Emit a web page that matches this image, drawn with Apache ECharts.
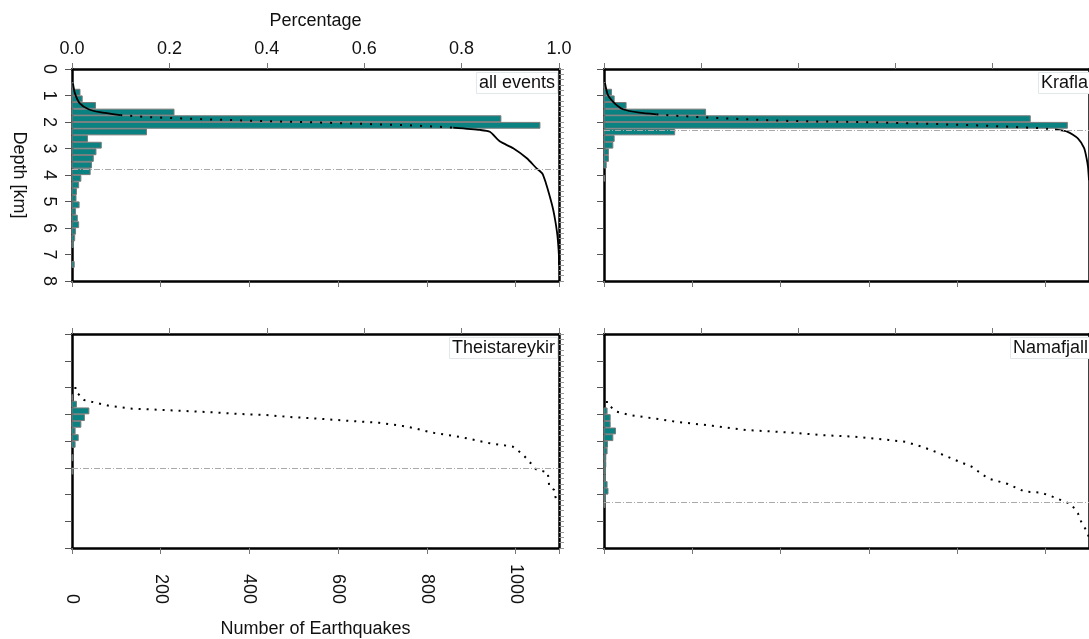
<!DOCTYPE html>
<html><head><meta charset="utf-8">
<script src="https://cdn.jsdelivr.net/npm/echarts@6/dist/echarts.min.js"></script>
<style>html,body{margin:0;padding:0;background:#fff}#c{width:1089px;height:639px}</style>
</head><body><div id="c"></div>
<script>
// ---------------- DATA ----------------
const panelNames = ['all events', 'Krafla', 'Theistareykir', 'Namafjall'];
const depthTicks = [0, 1, 2, 3, 4, 5, 6, 7, 8];
const pctTicks = ['0.0', '0.2', '0.4', '0.6', '0.8', '1.0'];
const countTicks = ['0', '200', '400', '600', '800', '1000'];
// depth-bin centres (km), 0.25 km bins
const binDepths = [0.125, 0.375, 0.625, 0.875, 1.125, 1.375, 1.625, 1.875,
                   2.125, 2.375, 2.625, 2.875, 3.125, 3.375, 3.625, 3.875,
                   4.125, 4.375, 4.625, 4.875, 5.125, 5.375, 5.625, 5.875,
                   6.125, 6.375, 6.625, 6.875, 7.125, 7.375, 7.625, 7.875];
const countsAll    = [0, 0, 3, 18, 23, 53, 230, 967, 1055, 168, 35, 66, 54, 48, 44, 41,
                      20, 15, 10, 9, 16, 8, 12, 15, 8, 6, 3, 0, 0, 5, 0, 0];
const countsKrafla = [0, 0, 2, 17, 23, 50, 230, 965, 1049, 160, 23, 20, 10, 10, 5, 0,
                      1, 0, 0, 0, 0, 0, 0, 0, 0, 0, 0, 0, 0, 0, 0, 0];
const countsTheist = [0, 0, 0, 0, 0, 0, 0, 0, 0, 1, 10, 38, 28, 20, 7, 14,
                      7, 0, 2, 0, 2, 0, 0, 0, 0, 0, 0, 0, 0, 0, 0, 0];
const countsNamaf  = [0, 0, 0, 0, 0, 0, 0, 0, 0, 0, 0, 7, 14, 14, 26, 20,
                      8, 7, 4, 4, 3, 3, 7, 9, 3, 2, 0, 0, 0, 0, 0, 0];
// cumulative curves: [fraction, depth km]
const cumAllSolidA = [[0.002,0.54],[0.006,0.92],[0.016,1.30],[0.034,1.52],[0.057,1.63],[0.099,1.74]];
const cumAllDots   = [[0.099,1.74],[0.16,1.82],[0.263,1.89],[0.366,1.95],[0.448,1.99],[0.564,2.05],[0.70,2.13],[0.783,2.21]];
const cumAllSolidB = [[0.783,2.21],[0.838,2.30],[0.858,2.37],[0.879,2.74],[0.906,2.99],[0.934,3.37],[0.954,3.75],
                      [0.966,3.95],[0.973,4.3],[0.981,4.8],[0.988,5.3],[0.993,5.8],[0.997,6.33],[1.0,7.2],[1.0,7.4]];
const cumKrSolidA  = [[0.002,0.53],[0.008,0.98],[0.022,1.30],[0.039,1.52],[0.073,1.65],[0.108,1.71]];
const cumKrDots    = [[0.108,1.71],[0.142,1.76],[0.245,1.86],[0.38,1.96],[0.52,2.00],[0.655,2.06],[0.79,2.14],[0.895,2.23],[0.93,2.28]];
const cumKrSolidB  = [[0.93,2.28],[0.956,2.37],[0.977,2.62],[0.99,2.99],[0.995,3.37],[0.998,3.7],[1.0,4.2]];
const cumThDots    = [[0.007,1.98],[0.007,2.14],[0.015,2.28],[0.025,2.47],[0.049,2.57],[0.077,2.69],[0.124,2.79],
                      [0.15,2.81],[0.186,2.84],[0.234,2.88],[0.289,2.93],[0.343,2.99],[0.398,3.03],[0.453,3.11],
                      [0.494,3.15],[0.563,3.24],[0.631,3.32],[0.679,3.44],[0.706,3.53],[0.74,3.69],[0.795,3.84],
                      [0.857,4.08],[0.905,4.21],[0.925,4.49],[0.942,4.83],[0.953,5.06],[0.977,5.18],[0.98,5.71],
                      [0.99,5.83],[0.994,6.21]];
const cumNaDots    = [[0.006,2.50],[0.006,2.62],[0.015,2.74],[0.025,2.90],[0.053,3.03],[0.101,3.15],[0.149,3.28],
                      [0.224,3.43],[0.292,3.59],[0.381,3.68],[0.45,3.78],[0.518,3.84],[0.587,3.96],[0.621,4.03],
                      [0.655,4.21],[0.689,4.44],[0.724,4.71],[0.758,4.96],[0.792,5.40],[0.833,5.61],[0.867,5.89],
                      [0.901,5.93],[0.929,6.11],[0.963,6.36],[0.977,6.70],[0.984,7.02],[0.994,7.33],[1.0,7.6]];
// depth at 95 % of events (km)
const depth95 = [3.77, 2.33, 5.0, 6.29];

// ---------------- CHART ----------------
const FONT = 'Liberation Sans';
const countsList = [countsAll, countsKrafla, countsTheist, countsNamaf];
const solidList = [[cumAllSolidA, cumAllSolidB], [cumKrSolidA, cumKrSolidB], [], []];
const dotList = [[cumAllDots], [cumKrDots], [cumThDots], [cumNaDots]];
const COUNT_MAX = 1098;
const grids = [
  {left: 72, top: 69, width: 487, height: 212},
  {left: 604, top: 69, width: 487, height: 212},
  {left: 72, top: 334, width: 487, height: 214},
  {left: 604, top: 334, width: 487, height: 214}
];
const frameLine = {show: true, onZero: false, lineStyle: {color: '#000', width: 2.5}};
const txt = {fontFamily: FONT, fontSize: 18, color: '#111'};
const xAxis = [], yAxis = [], series = [];
grids.forEach((g, i) => {
  xAxis.push({
    type: 'value', gridIndex: i, position: 'bottom', min: 0, max: COUNT_MAX, interval: 200,
    axisLine: frameLine, splitLine: {show: false},
    axisTick: {show: true, length: 6, lineStyle: {color: '#777'}},
    axisLabel: {show: i === 2, rotate: -90, align: 'right', verticalAlign: 'middle', margin: 56,
      ...txt, formatter: v => countTicks.includes(String(v)) ? String(v) : ''},
    name: i === 2 ? 'Number of Earthquakes' : '', nameLocation: 'middle', nameGap: 72,
    nameTextStyle: txt
  });
  xAxis.push({
    type: 'value', gridIndex: i, position: 'top', min: 0, max: 1, interval: 0.2,
    axisLine: frameLine, splitLine: {show: false},
    axisTick: {show: true, length: 6, lineStyle: {color: '#777'}},
    axisLabel: {show: i === 0, margin: 11, ...txt, formatter: v => pctTicks[Math.round(v * 5)]},
    name: i === 0 ? 'Percentage' : '', nameLocation: 'middle', nameGap: 39,
    nameTextStyle: txt
  });
  yAxis.push({
    type: 'value', gridIndex: i, position: 'left', inverse: true, min: 0, max: 8, interval: 1,
    axisLine: frameLine, splitLine: {show: false},
    axisTick: {show: true, length: 7, lineStyle: {color: '#555'}},
    axisLabel: {show: i === 0, rotate: -90, margin: 14, ...txt,
      formatter: v => depthTicks.includes(v) ? String(v) : ''},
    name: i === 0 ? 'Depth [km]' : '', nameLocation: 'middle', nameRotate: -90, nameGap: 44,
    nameTextStyle: txt
  });
  yAxis.push({
    type: 'value', gridIndex: i, position: 'right', inverse: true, min: 0, max: 8, interval: 0.2,
    axisLine: frameLine, splitLine: {show: false},
    axisTick: {show: true, length: 5, lineStyle: {color: '#999'}},
    axisLabel: {show: false}
  });

  // histogram bars
  const barData = [];
  countsList[i].forEach((c, k) => { if (c > 0) barData.push([c, binDepths[k]]); });
  series.push({
    type: 'custom', xAxisIndex: 2 * i, yAxisIndex: 2 * i, z: 2, data: barData,
    renderItem: (params, api) => {
      const c = api.value(0), d = api.value(1);
      const p0 = api.coord([0, d - 0.11]);
      const p1 = api.coord([c, d + 0.11]);
      return {type: 'rect',
        shape: {x: p0[0], y: p0[1], width: p1[0] - p0[0], height: p1[1] - p0[1]},
        style: {fill: '#0a8282', stroke: '#7a7a7a', lineWidth: 1}};
    }
  });
  // cumulative curve: solid parts
  solidList[i].forEach(seg => series.push({
    type: 'line', xAxisIndex: 2 * i + 1, yAxisIndex: 2 * i, z: 4, data: seg,
    showSymbol: false, silent: true, smooth: 0.2, lineStyle: {color: '#000', width: 1.8}
  }));
  // cumulative curve: dotted parts, with the 95 % depth line
  dotList[i].forEach((seg, j) => series.push({
    type: 'line', xAxisIndex: 2 * i + 1, yAxisIndex: 2 * i, z: 4, data: seg,
    showSymbol: false, silent: true,
    lineStyle: {color: '#000', width: 2, type: i < 2 ? [2, 8] : [2, 6]},
    markLine: j === 0 ? {symbol: 'none', silent: true, label: {show: false},
      lineStyle: {color: '#aaa', width: 1, type: [6, 2, 1, 2]},
      data: [{yAxis: depth95[i]}]} : undefined
  }));
});

const titles = panelNames.map((n, i) => ({
  text: n, top: i < 2 ? 72 : 337, right: i % 2 === 0 ? 1089 - 558 : -2,
  padding: [1, 3, 1, 3], backgroundColor: '#fff', borderColor: '#e2e8ea', borderWidth: 1,
  textStyle: {fontFamily: FONT, fontSize: 18, fontWeight: 'normal', color: '#111', lineHeight: 20}
}));

const chart = echarts.init(document.getElementById('c'), null, {renderer: 'canvas'});
chart.setOption({
  animation: false, backgroundColor: '#fff',
  title: titles, grid: grids, xAxis, yAxis, series
});
</script>
</body></html>
